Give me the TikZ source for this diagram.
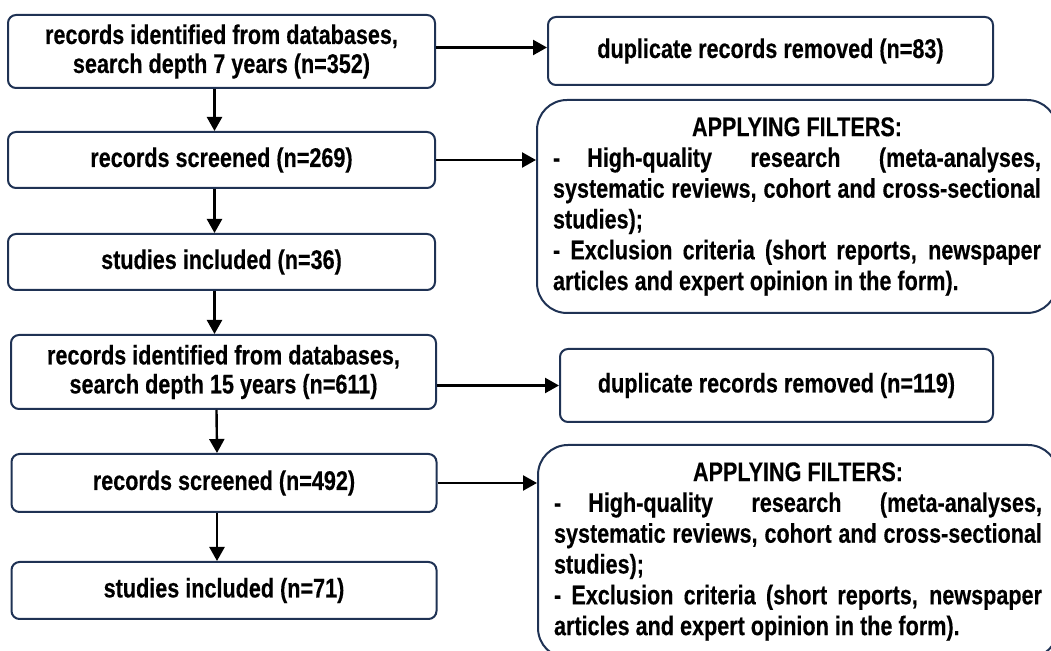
\documentclass[tikz,border=0pt]{standalone}
\usepackage{fontspec}
\setmainfont{Liberation Sans}[FakeStretch=0.8, BoldFeatures={FakeBold=0.3}]
\usetikzlibrary{arrows.meta,calc}
\definecolor{boxline}{RGB}{31,50,84}

\begin{document}
\begin{tikzpicture}[x=1pt, y=1pt,
  flowbox/.style={draw=boxline, line width=1pt, rounded corners=4pt, align=center,
    font=\bfseries\fontsize{13.5}{14.5}\selectfont, inner sep=2pt},
  filterbox/.style={draw=boxline, line width=1pt, rounded corners=15pt, anchor=west,
    text width=244pt, align=justify, inner xsep=8pt, minimum height=106.5pt,
    font=\bfseries\fontsize{13.5}{15.4}\selectfont},
  flowarrow/.style={line width=1.2pt, -{Triangle[length=7pt, width=7.5pt]}}]
  \useasboundingbox (0,0) rectangle (525.5,-325.5);
  % first search, 7 years
  \node[flowbox, minimum width=213.5pt, minimum height=36.5pt] (ident7) at (110.75,-25.75)
    {records identified from databases,\\ search depth 7 years (n=352)};
  \node[flowbox, minimum width=213.5pt, minimum height=28pt] (screen7) at (110.75,-80)
    {records screened (n=269)};
  \node[flowbox, minimum width=213.5pt, minimum height=28pt] (incl7) at (110.75,-131)
    {studies included (n=36)};
  \node[flowbox, minimum width=222.5pt, minimum height=34pt] (dupl7) at (385.25,-25.5)
    {duplicate records removed (n=83)};
  \node[filterbox] (filt7) at (268,-103.25)
    {{\centering APPLYING FILTERS:\par}
     -\quad High-quality research (meta-analyses,\linebreak
     systematic reviews, cohort and cross-sectional\linebreak
     studies);\\
     - Exclusion criteria (short reports, newspaper\linebreak
     articles and expert opinion in the form).};
  % second search, 15 years
  \node[flowbox, minimum width=212.5pt, minimum height=37pt] (ident15) at (111.75,-186)
    {records identified from databases,\\ search depth 15 years (n=611)};
  \node[flowbox, minimum width=212.5pt, minimum height=29pt] (screen15) at (112,-241.5)
    {records screened (n=492)};
  \node[flowbox, minimum width=212.5pt, minimum height=28.5pt] (incl15) at (112,-295.25)
    {studies included (n=71)};
  \node[flowbox, minimum width=216.5pt, minimum height=36.5pt] (dupl15) at (388.25,-192.75)
    {duplicate records removed (n=119)};
  \node[filterbox] (filt15) at (268.5,-275.75)
    {{\centering APPLYING FILTERS:\par}
     -\quad High-quality research (meta-analyses,\linebreak
     systematic reviews, cohort and cross-sectional\linebreak
     studies);\\
     - Exclusion criteria (short reports, newspaper\linebreak
     articles and expert opinion in the form).};
  % arrows down the left column
  \draw[flowarrow] ([xshift=-3.5pt]ident7.south) -- ([xshift=-3.5pt]screen7.north);
  \draw[flowarrow] ([xshift=-3.5pt]screen7.south) -- ([xshift=-3.5pt]incl7.north);
  \draw[flowarrow] ([xshift=-3.5pt]incl7.south) -- ([xshift=-3.5pt]incl7.south |- ident15.north);
  \draw[flowarrow] ([xshift=-3.5pt]ident15.south) -- ([xshift=-3.5pt]screen15.north);
  \draw[flowarrow] ([xshift=-3.5pt]screen15.south) -- ([xshift=-3.5pt]incl15.north);
  % arrows to the right column
  \draw[flowarrow] ([yshift=2pt]ident7.east) -- ([yshift=2pt]ident7.east -| dupl7.west);
  \draw[flowarrow] (screen7.east) -- (screen7.east -| filt7.west);
  \draw[flowarrow] (dupl15.west -| ident15.east) -- (dupl15.west);
  \draw[flowarrow] (screen15.east) -- (screen15.east -| filt15.west);
\end{tikzpicture}
\end{document}
